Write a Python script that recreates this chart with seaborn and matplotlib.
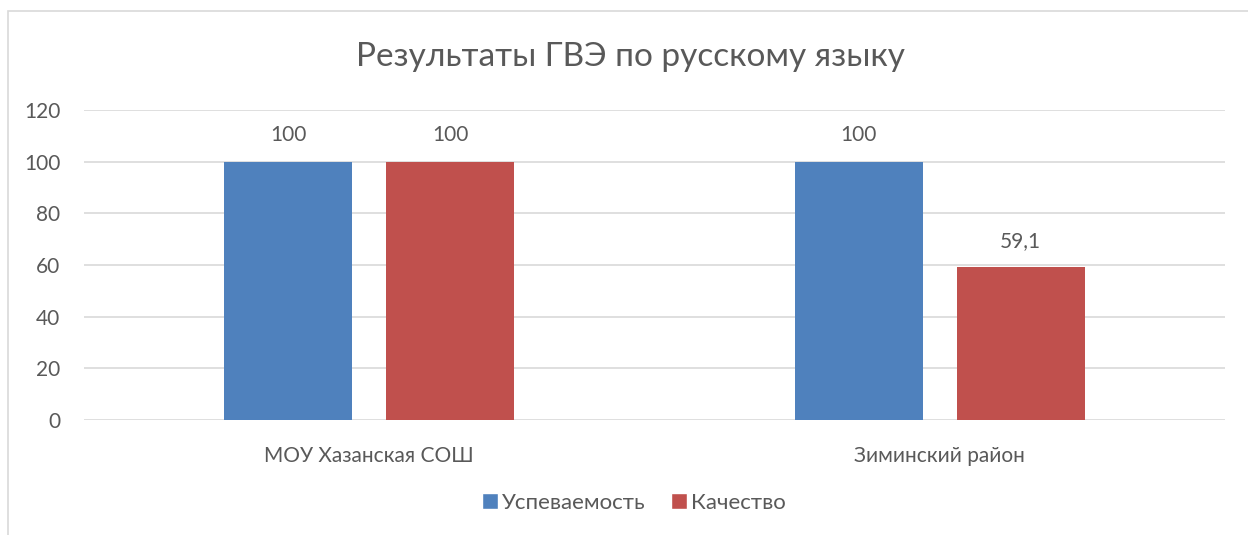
import matplotlib
matplotlib.use("Agg")
import matplotlib.pyplot as plt
import seaborn as sns
import pandas as pd
from matplotlib.patches import Rectangle

categories = ["МОУ Хазанская СОШ", "Зиминский район"]
series_names = ["Успеваемость", "Качество"]
uspevaemost = [100, 100]
kachestvo = [100, 59.1]
yticks = [0, 20, 40, 60, 80, 100, 120]
title = "Результаты ГВЭ по русскому языку"

colors = ["#4F81BD", "#C0504D"]
text_color = "#595959"
grid_color = "#D9D9D9"

df = pd.DataFrame({
    "category": categories * 2,
    "series": [series_names[0]] * 2 + [series_names[1]] * 2,
    "value": uspevaemost + kachestvo,
})

sns.set_theme(style="white")
plt.rcParams["font.family"] = ["Lato", "DejaVu Sans"]

fig = plt.figure(figsize=(12.48, 5.35), dpi=100)
fig.patches.append(Rectangle((8 / 1248, -0.5), 2, 1.5 - 11 / 535, transform=fig.transFigure,
                             facecolor="none", edgecolor=grid_color, linewidth=1.2, zorder=0))
ax = fig.add_axes([84 / 1248, 1 - 420 / 535, (1225 - 84) / 1248, 310 / 535])

sns.barplot(data=df, x="category", y="value", hue="series", palette=colors,
            width=0.568, gap=0.21, ax=ax, legend=True, saturation=1, linewidth=0)

ax.set_ylim(0, 120)
ax.set_xlim(-0.5, 1.5)
ax.set_yticks(yticks)
ax.yaxis.grid(True, color=grid_color, linewidth=1.2)
ax.set_axisbelow(True)
for s in ax.spines.values():
    s.set_visible(False)
ax.set_xlabel("")
ax.set_ylabel("")
ax.tick_params(axis="y", labelsize=15, labelcolor=text_color, length=0, pad=17)
ax.tick_params(axis="x", labelsize=15, labelcolor=text_color, length=0, pad=19)

for cont in ax.containers:
    labels = [f"{v:g}".replace(".", ",") for v in cont.datavalues]
    ax.bar_label(cont, labels=labels, padding=12, fontsize=15, color=text_color)

ax.get_legend().remove()
handles = [Rectangle((0, 0), 1, 1, facecolor=c) for c in colors]
fig.legend(handles, series_names, loc="center", bbox_to_anchor=(0.508, 1 - 503 / 535),
           ncol=2, frameon=False, fontsize=16, labelcolor=text_color,
           handlelength=0.7, handleheight=0.7, handletextpad=0.2, columnspacing=1.15)

fig.text(0.505, 1 - 57 / 535, title, ha="center", va="center", fontsize=24, color=text_color)

fig.savefig("out.png", dpi=100)
